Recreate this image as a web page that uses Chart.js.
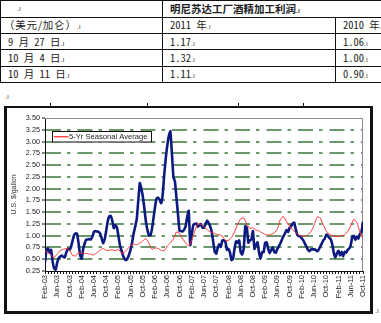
<!DOCTYPE html>
<html>
<head>
<meta charset="utf-8">
<script src="https://cdn.jsdelivr.net/npm/chart.js@4"></script>
<style>
  html, body { margin: 0; padding: 0; background: #fff; width: 381px; height: 323px; overflow: hidden; position: relative; }
  .ln { position: absolute; background: #111; }
  .cell { position: absolute; white-space: nowrap; font-family: "Noto Sans CJK SC", sans-serif; font-size: 10.5px; line-height: 14px; color: #1c1c1c; font-feature-settings: "hwid" 1; }
  .hd { font-weight: bold; }
  .fw { font-feature-settings: normal; letter-spacing: 0.8px; }
  .mk { font-family: "Liberation Sans", sans-serif; font-size: 7px; color: #444; letter-spacing: 0; }
  .frame { position: absolute; background: #111; }
  #c { position: absolute; left: 0; top: 100px; }
</style>
</head>
<body>
<div id="sheet"></div>
<canvas id="c" width="381" height="223"></canvas>
<script>
// ---- table: Minnesota ethanol plant margin ----
const tableTitle = '明尼苏达工厂酒精加工利润';
const unitLabel = '（美元/加仑）';
const yearHeaders = ['2011 年', '2010 年'];
const dateLabels = ['9 月 27 日', '10 月 4 日', '10 月 11 日'];
const margin2011 = [1.17, 1.32, 1.11];
const margin2010 = [1.06, 1.00, 0.90];

// ---- chart series ----
const xTickLabels = ['Feb-03','Jun-03','Oct-03','Feb-04','Jun-04','Oct-04','Feb-05','Jun-05','Oct-05',
  'Feb-06','Jun-06','Oct-06','Feb-07','Jun-07','Oct-07','Feb-08','Jun-08','Oct-08','Feb-09','Jun-09',
  'Oct-09','Feb-10','Jun-10','Oct-10','Feb-11','Jun-11','Oct-11'];

// plant margin, twice a month from Feb-03
const plantMargin = [
  0.44,0.70,0.73,0.64,0.70,0.45,0.30,0.28,0.43,0.53,
  0.56,0.58,0.55,0.54,0.65,0.72,0.70,0.76,0.89,1.01,
  1.05,1.04,0.83,0.58,0.51,0.72,0.84,0.92,0.92,0.93,
  0.92,0.98,1.08,1.10,1.09,1.08,1.05,0.95,0.84,0.92,
  1.10,1.30,1.41,1.42,1.32,1.16,1.22,1.18,1.00,0.80,
  0.69,0.58,0.51,0.48,0.52,0.60,0.71,0.86,1.05,1.19,
  1.35,1.74,2.12,2.00,1.83,1.58,1.30,1.12,1.01,1.01,
  1.15,1.38,1.62,1.79,1.81,1.76,1.69,1.88,2.30,2.65,
  2.92,3.12,3.22,2.75,2.25,2.15,1.80,1.45,1.10,1.10,
  1.09,1.13,1.20,1.40,1.53,0.80,1.03,1.23,1.25,1.26,
  1.19,1.22,1.25,1.17,1.17,1.25,1.32,1.27,1.20,1.09,
  0.88,0.66,0.62,0.74,0.82,0.76,0.90,0.90,0.87,0.70,
  0.72,0.64,0.48,0.51,0.73,0.88,0.85,0.90,0.65,0.60,
  0.73,1.20,1.17,0.85,0.90,0.92,1.10,0.72,0.80,0.86,
  0.64,0.51,0.65,0.65,0.85,0.86,0.72,0.63,0.70,0.75,
  0.65,0.64,0.72,0.78,0.84,0.92,0.99,1.05,1.12,1.08,
  1.17,1.20,1.26,1.28,1.14,1.02,0.99,0.99,0.94,0.90,
  0.83,0.77,0.70,0.67,0.71,0.71,0.71,0.70,0.67,0.70,
  0.77,0.83,0.90,0.94,1.02,1.00,0.95,0.92,0.80,0.62,
  0.54,0.63,0.68,0.58,0.66,0.56,0.66,0.64,0.70,0.73,
  0.80,0.98,1.00,0.91,0.98,0.94,1.04,1.08,1.30
];

// five-year seasonal average, monthly from Feb-03
const seasonalAvg = [
  0.68,0.64,0.58,0.54,0.61,0.69,0.71,0.73,0.69,0.58,
  0.57,0.64,0.63,0.62,0.62,0.60,0.59,0.64,0.69,0.73,
  0.69,0.69,0.70,0.68,0.71,0.63,0.65,0.72,0.79,0.82,
  0.81,0.84,0.89,0.94,0.84,0.71,0.74,0.73,0.69,0.68,
  0.78,0.85,0.93,1.08,1.05,0.93,0.85,0.78,0.90,1.10,
  1.26,1.24,1.19,1.13,1.08,1.06,1.03,1.02,0.99,0.90,
  0.90,0.96,1.08,1.24,1.36,1.38,1.25,1.15,1.17,1.12,
  1.10,1.06,1.03,1.01,1.03,1.06,1.14,1.35,1.41,1.30,
  1.20,1.12,1.07,1.01,0.99,0.99,1.02,1.09,1.22,1.40,
  1.38,1.23,1.10,1.03,1.00,0.99,0.98,1.00,1.02,1.09,
  1.21,1.35,1.28,1.08,0.95
];
const seasonalLabel = '5-Yr Seasonal Average';

// ---- build the table ----
const sheet = document.getElementById('sheet');
function add(cls, css, text) {
  const d = document.createElement('div');
  d.className = cls;
  Object.assign(d.style, css);
  if (text !== undefined) d.textContent = text;
  sheet.appendChild(d);
  return d;
}
function cell(x, yc, text, extraCls) {
  const d = add('cell' + (extraCls ? ' ' + extraCls : ''), { left: x + 'px', top: (yc - 7) + 'px' });
  d.appendChild(document.createTextNode(text));
  const m = document.createElement('span');
  m.className = 'mk';
  m.textContent = '.ı';
  d.appendChild(m);
}
const rowLines = [0, 16.5, 33, 49.3, 65.7, 82];
rowLines.forEach(y => add('ln', { left: '0px', top: y + 'px', width: '381px', height: '1px' }));
add('ln', { left: '0px', top: '0px', width: '1px', height: '83px' });
add('ln', { left: '162px', top: '0px', width: '1px', height: '83px' });
add('ln', { left: '335px', top: '16.5px', width: '1px', height: '66.5px' });
const rowMid = rowLines.slice(0, -1).map((y, i) => (y + rowLines[i + 1]) / 2 + 0.5);

add('mk', { position: 'absolute', left: '17px', top: (rowMid[0] - 4) + 'px' }, '.ı');
cell(170, rowMid[0], tableTitle, 'hd');
cell(4, rowMid[1], unitLabel, 'fw');
cell(170, rowMid[1], yearHeaders[0]);
cell(343, rowMid[1], yearHeaders[1]);
dateLabels.forEach((d, i) => {
  cell(8, rowMid[i + 2], d);
  cell(170, rowMid[i + 2], margin2011[i].toFixed(2));
  cell(343, rowMid[i + 2], margin2010[i].toFixed(2));
});

// ---- picture frame around the chart ----
add('mk', { position: 'absolute', left: '5px', top: '93px' }, '.ı');
add('frame', { left: '4px', top: '106px', width: '369px', height: '2px' });
add('frame', { left: '4px', top: '106px', width: '3px', height: '207px' });
add('frame', { left: '370px', top: '106px', width: '3px', height: '207px' });
add('frame', { left: '4px', top: '310.5px', width: '369px', height: '3px' });
[50, 147, 238, 303].forEach(x => add('frame', { left: x + 'px', top: '103px', width: '1px', height: '3px' }));
add('mk', { position: 'absolute', left: '375px', top: '307px' }, '.ı');

// ---- chart ----
const navy = '#0c1a80';
const red = '#ff3232';

const plotFrame = {
  id: 'plotFrame',
  beforeDatasetsDraw(chart) {
    const { ctx, chartArea: a } = chart;
    ctx.save();
    ctx.strokeStyle = '#8c8c8c';
    ctx.lineWidth = 1;
    ctx.beginPath();
    ctx.moveTo(a.left, a.top + 0.5);
    ctx.lineTo(a.right - 0.5, a.top + 0.5);
    ctx.lineTo(a.right - 0.5, a.bottom);
    ctx.stroke();
    ctx.restore();
  }
};

const seasonalKey = {
  id: 'seasonalKey',
  afterDatasetsDraw(chart) {
    const { ctx, chartArea: a } = chart;
    const x = a.left + 7, y = a.top + 13, w = 100, h = 11.5;
    ctx.save();
    ctx.fillStyle = '#fff';
    ctx.fillRect(x, y, w, h);
    ctx.strokeStyle = '#111';
    ctx.lineWidth = 1;
    ctx.strokeRect(x + 0.5, y + 0.5, w - 1, h - 1);
    ctx.strokeStyle = red;
    ctx.lineWidth = 1.3;
    ctx.beginPath();
    ctx.moveTo(x + 2, y + h / 2);
    ctx.lineTo(x + 16.5, y + h / 2);
    ctx.stroke();
    ctx.fillStyle = '#222';
    ctx.font = '7.6px "Liberation Sans", Arial, sans-serif';
    ctx.textBaseline = 'middle';
    ctx.fillText(chart.data.datasets[1].label, x + 17, y + h / 2 + 0.5);
    ctx.restore();
  }
};

new Chart(document.getElementById('c'), {
  type: 'line',
  data: {
    datasets: [
      {
        label: 'Plant margin',
        data: plantMargin.map((v, i) => ({ x: i * 0.5, y: v })),
        borderColor: navy,
        borderWidth: 2.6,
        tension: 0.12,
        pointRadius: 0,
        order: 1
      },
      {
        label: seasonalLabel,
        data: seasonalAvg.map((v, i) => ({ x: i, y: v })),
        borderColor: red,
        borderWidth: 1,
        tension: 0.12,
        pointRadius: 0,
        order: 0
      }
    ]
  },
  options: {
    responsive: false,
    animation: false,
    devicePixelRatio: 1,
    layout: { padding: { top: 18, right: 18, left: 0, bottom: 0 } },
    plugins: { legend: { display: false }, tooltip: { enabled: false } },
    scales: {
      x: {
        type: 'linear',
        min: 0,
        max: 104,
        afterFit(s) { s.height = 52; },
        grid: { drawOnChartArea: false, drawTicks: true, tickLength: 3, tickColor: '#111', tickWidth: 1 },
        border: { display: true, color: '#111', width: 1 },
        ticks: {
          stepSize: 1,
          autoSkip: false,
          minRotation: 90,
          maxRotation: 90,
          padding: 1,
          color: '#222',
          font: { family: 'Liberation Sans', size: 7.5 },
          callback: v => (v % 4 === 0 ? xTickLabels[v / 4] : '')
        }
      },
      y: {
        min: 0.25,
        max: 3.5,
        afterFit(s) { s.width = 45; },
        grid: {
          color: c => (c.tick && (c.tick.value === 0.25 || c.tick.value === 3.5)) ? 'rgba(0,0,0,0)' : '#6b996b',
          lineWidth: 2,
          tickLength: 3,
          tickColor: '#111',
          tickWidth: 1
        },
        border: { color: '#111', width: 1, dash: [15, 6, 3.5, 7] },
        ticks: {
          stepSize: 0.25,
          padding: 2,
          color: '#222',
          font: { family: 'Liberation Sans', size: 7.3 },
          callback: v => v.toFixed(2)
        },
        title: {
          display: true,
          text: 'U.S. $/gallon',
          color: '#333',
          font: { family: 'Liberation Sans', size: 7 },
          padding: { top: 10, bottom: 0 }
        }
      }
    }
  },
  plugins: [plotFrame, seasonalKey]
});
</script>
</body>
</html>
